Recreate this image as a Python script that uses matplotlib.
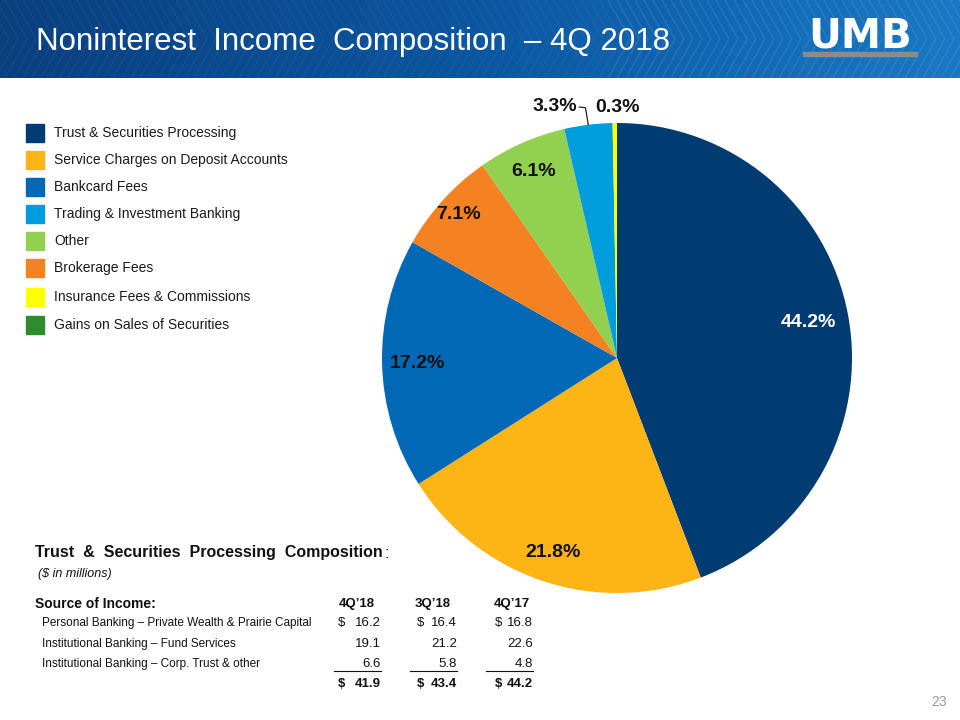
import numpy as np
import matplotlib
matplotlib.use("Agg")
import matplotlib.pyplot as plt
from matplotlib.patches import Rectangle
from matplotlib.colors import LinearSegmentedColormap

# ---- data ----
categories = ["Trust & Securities Processing", "Service Charges on Deposit Accounts",
              "Bankcard Fees", "Brokerage Fees", "Other",
              "Trading & Investment Banking", "Insurance Fees & Commissions",
              "Gains on Sales of Securities"]
shares = [44.2, 21.8, 17.2, 7.1, 6.1, 3.3, 0.3, 0.0]
colors = ["#003B71", "#FDB516", "#0068B4", "#F58222", "#92D050",
          "#009DDC", "#FFFF00", "#2E8B2E"]
legend_order = ["Trust & Securities Processing", "Service Charges on Deposit Accounts",
                "Bankcard Fees", "Trading & Investment Banking", "Other",
                "Brokerage Fees", "Insurance Fees & Commissions",
                "Gains on Sales of Securities"]

col_heads = ["4Q\u201918", "3Q\u201918", "4Q\u201917"]
row_names = ["Personal Banking \u2013 Private Wealth & Prairie Capital",
             "Institutional Banking \u2013 Fund Services",
             "Institutional Banking \u2013 Corp. Trust & other"]
table_vals = [[16.2, 16.4, 16.8],
              [19.1, 21.2, 22.6],
              [6.6, 5.8, 4.8]]
totals = [41.9, 43.4, 44.2]

plt.rcParams['font.family'] = ['Liberation Sans', 'DejaVu Sans']

fig = plt.figure(figsize=(9.6, 7.2), dpi=100)
bg = fig.add_axes([0, 0, 1, 1])
bg.axis("off")

# header band
grad = np.linspace(0, 1, 256).reshape(1, -1)
hcmap = LinearSegmentedColormap.from_list("hdr", ["#0a3f7e", "#0c56a0", "#1b78c4"])
bg.imshow(grad, extent=[0, 960, 78, 0], aspect="auto", cmap=hcmap, zorder=0)
for x0 in np.arange(-40, 1000, 9):
    a = 0.10 if x0 < 600 else 0.25
    bg.plot([x0, x0 + 22, x0], [0, 39, 78], color="#5fb4f0", lw=0.8, alpha=a, zorder=1)
bg.set_xlim(0, 960)
bg.set_ylim(720, 0)

bg.text(36, 42, "Noninterest  Income  Composition  \u2013 4Q 2018", color="white",
        fontsize=22.5, va="center", ha="left", zorder=3)
bg.add_patch(Rectangle((803, 52), 114, 3.5, color="#8c8c8c", zorder=3))
bg.text(860, 36, "UMB", color="white", fontsize=29, fontweight="heavy", ha="center",
        va="center", family="DejaVu Sans", zorder=3)

# legend
leg_y = [133, 160, 187, 214, 241, 268, 297, 325]
for name, y in zip(legend_order, leg_y):
    c = colors[categories.index(name)]
    bg.add_patch(Rectangle((26, y - 9), 18, 18, color=c, zorder=3))
    bg.text(54, y, name, fontsize=10, va="center", ha="left", color="#1a1a1a")

# pie
cx, cy, R = 617, 358, 235
pax = fig.add_axes([(cx - R) / 960, (720 - cy - R) / 720, 2 * R / 960, 2 * R / 720])
vals = [v for v in shares if v > 0]
cols = [c for v, c in zip(shares, colors) if v > 0]
wedges, _ = pax.pie(vals, colors=cols, startangle=90, counterclock=False,
                    wedgeprops=dict(linewidth=0))
pax.set_xlim(-1, 1)
pax.set_ylim(-1, 1)
pax.set_aspect("equal")

rfrac = [0.83, 0.87, 0.85, 0.91, 0.87]
txtcol = ["white", "#111111", "#111111", "#111111", "#111111"]
for w, v, r, tc in zip(wedges, vals, rfrac, txtcol):
    ang = np.deg2rad((w.theta1 + w.theta2) / 2)
    pax.text(r * np.cos(ang), r * np.sin(ang), f"{v:.1f}%", ha="center", va="center",
             fontsize=14, fontweight="bold", color=tc)

# small slices labelled outside
w33, w03 = wedges[5], wedges[6]
a33 = np.deg2rad((w33.theta1 + w33.theta2) / 2)
px, py = np.cos(a33), np.sin(a33)
pax.plot([px, px - 0.012, -0.16], [py, 1.065, 1.068], color="#222222",
         lw=0.9, clip_on=False)
pax.text(-0.17, 1.07, "3.3%", ha="right", va="center", fontsize=14, fontweight="bold",
         color="#111111")
a03 = np.deg2rad((w03.theta1 + w03.theta2) / 2)
pax.text(np.cos(a03) + 0.01, 1.065, "0.3%", ha="center", va="center", fontsize=14,
         fontweight="bold", color="#111111")

# table
t = bg.text(35, 553, "Trust  &  Securities  Processing  Composition", fontsize=11.5,
            fontweight="bold", va="center", color="#111111")
bg.annotate(":", xy=(1, 0.5), xycoords=t, xytext=(1, 0), textcoords="offset points",
            va="center", fontsize=11.5, color="#111111")
bg.text(38, 574, "($ in millions)", fontsize=9, style="italic", va="center", color="#111111")
bg.text(35, 604, "Source of Income:", fontsize=10, fontweight="bold", va="center",
        color="#111111")
head_x = [357, 433, 512]
dollar_x = [338, 417, 495]
num_x = [381, 457, 533]
for h, x in zip(col_heads, head_x):
    bg.text(x, 604, h, fontsize=9.5, fontweight="bold", ha="center", va="center", color="#111111")
row_y = [623, 644, 664]
for name, y, rv in zip(row_names, row_y, table_vals):
    bg.text(42, y, name, fontsize=8.5, va="center", color="#111111")
    for j, v in enumerate(rv):
        bg.text(num_x[j], y, f"{v:.1f}", fontsize=9.5, ha="right", va="center", color="#111111")
        if y == row_y[0]:
            bg.text(dollar_x[j], y, "$", fontsize=9.5, ha="left", va="center", color="#111111")
for j in range(3):
    bg.plot([num_x[j] - 47, num_x[j]], [671, 671], color="#111111", lw=0.8)
    bg.text(dollar_x[j], 684, "$", fontsize=9.5, fontweight="bold", ha="left", va="center",
            color="#111111")
    bg.text(num_x[j], 684, f"{totals[j]:.1f}", fontsize=9.5, fontweight="bold", ha="right",
            va="center", color="#111111")

bg.text(947, 702, "23", fontsize=10, ha="right", va="center", color="#9a9a9a")

fig.savefig("out.png", dpi=100)
